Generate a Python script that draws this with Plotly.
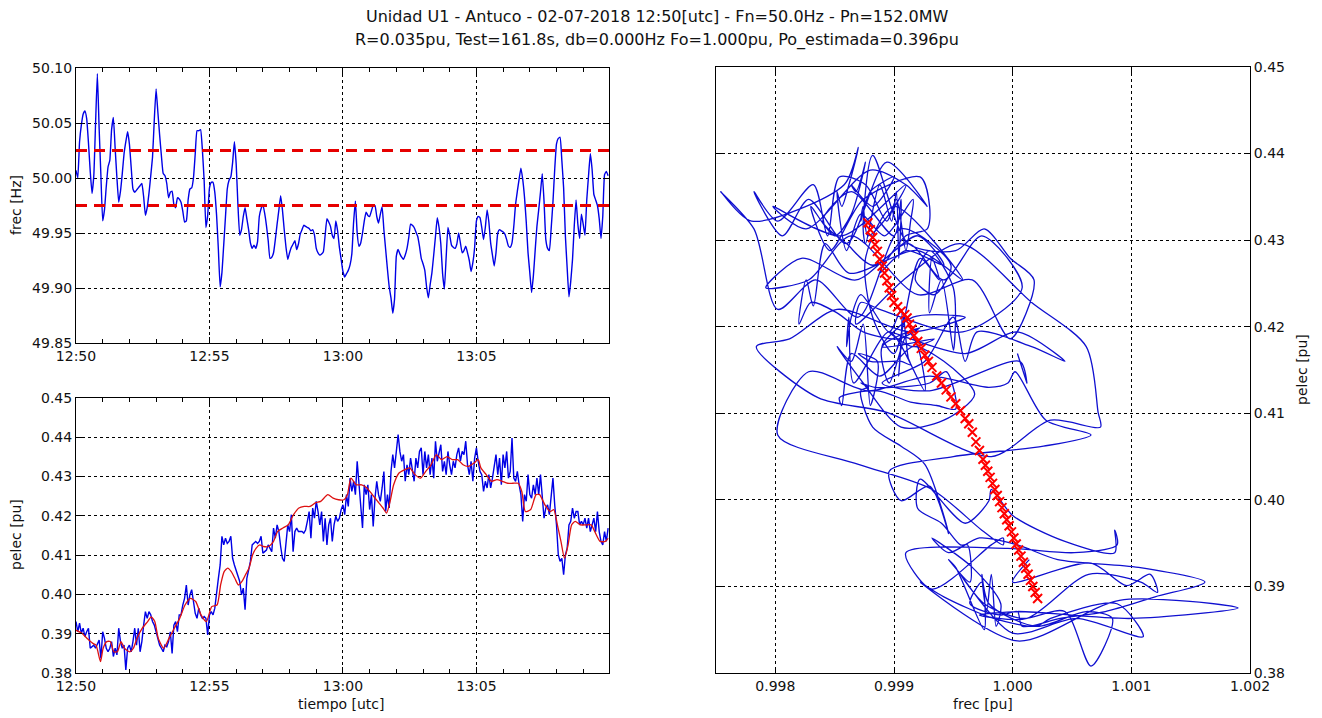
import pandas as pd
import plotly.graph_objects as go

# ---------------- data ----------------
T0 = "2018-07-02 12:50:00"
T_END = "2018-07-02 13:09:58"
FN_HZ = 50.0
DB_UPPER_HZ = 50.025
DB_LOWER_HZ = 49.975

# 4-second samples, seconds after 12:50:00 utc
t_sec = list(range(0, 1200, 4))

frec_hz = [
    50.007, 50.000, 50.033, 50.048, 50.058, 50.061, 50.054, 50.032, 50.006, 49.986,
    50.002, 50.050, 50.095, 50.045, 50.002, 49.961, 49.971, 49.992, 50.010, 50.016,
    50.044, 50.055, 50.027, 50.000, 49.978, 49.988, 50.004, 50.022, 50.033, 50.042,
    50.031, 50.010, 49.990, 49.987, 49.989, 49.991, 49.993, 49.995, 49.983, 49.966,
    49.973, 49.986, 50.002, 50.019, 50.053, 50.081, 50.060, 50.039, 50.020, 50.004,
    50.002, 49.995, 49.982, 49.987, 49.988, 49.976, 49.973, 49.982, 49.981, 49.978,
    49.970, 49.960, 49.961, 49.980, 49.990, 49.991, 50.000, 50.022, 50.043, 50.043,
    50.044, 50.026, 49.998, 49.955, 49.966, 49.991, 49.996, 49.996, 49.987, 49.966,
    49.935, 49.901, 49.914, 49.939, 49.965, 49.990, 49.998, 50.001, 50.014, 50.033,
    50.013, 49.975, 49.948, 49.953, 49.965, 49.973, 49.963, 49.953, 49.941, 49.936,
    49.939, 49.936, 49.942, 49.965, 49.972, 49.976, 49.968, 49.957, 49.943, 49.927,
    49.928, 49.932, 49.944, 49.958, 49.971, 49.984, 49.971, 49.953, 49.937, 49.926,
    49.932, 49.937, 49.940, 49.943, 49.935, 49.940, 49.949, 49.953, 49.957, 49.956,
    49.955, 49.954, 49.952, 49.953, 49.948, 49.936, 49.932, 49.930, 49.931, 49.933,
    49.948, 49.963, 49.960, 49.956, 49.948, 49.945, 49.961, 49.952, 49.937, 49.926,
    49.915, 49.910, 49.913, 49.916, 49.921, 49.931, 49.960, 49.979, 49.950, 49.938,
    49.941, 49.950, 49.961, 49.969, 49.966, 49.965, 49.970, 49.975, 49.975, 49.965,
    49.959, 49.967, 49.974, 49.953, 49.935, 49.917, 49.901, 49.891, 49.877, 49.890,
    49.929, 49.935, 49.931, 49.928, 49.926, 49.930, 49.936, 49.946, 49.958, 49.957,
    49.955, 49.951, 49.947, 49.938, 49.927, 49.922, 49.916, 49.901, 49.891, 49.903,
    49.914, 49.930, 49.947, 49.964, 49.955, 49.940, 49.913, 49.899, 49.928, 49.955,
    49.948, 49.939, 49.937, 49.936, 49.940, 49.950, 49.941, 49.932, 49.934, 49.938,
    49.932, 49.925, 49.915, 49.923, 49.937, 49.961, 49.965, 49.964, 49.955, 49.944,
    49.955, 49.971, 49.960, 49.941, 49.930, 49.920, 49.932, 49.950, 49.953, 49.952,
    49.951, 49.949, 49.944, 49.938, 49.937, 49.941, 49.956, 49.976, 49.988, 49.999,
    50.009, 49.999, 49.983, 49.960, 49.932, 49.914, 49.896, 49.911, 49.934, 49.956,
    49.971, 49.987, 50.004, 49.979, 49.944, 49.936, 49.934, 49.954, 49.978, 50.008,
    50.031, 50.036, 50.037, 50.016, 49.991, 49.947, 49.918, 49.892, 49.906, 49.926,
    49.957, 49.980, 49.958, 49.945, 49.967, 49.958, 49.948, 49.980, 50.002, 50.022,
    50.008, 49.985, 49.980, 49.975, 49.963, 49.945, 49.965, 50.003, 50.006, 50.002,
]

pelec_pu = [
    0.3931, 0.3905, 0.3927, 0.3901, 0.3914, 0.3893, 0.3905, 0.3914, 0.3863, 0.3867,
    0.3871, 0.3863, 0.3875, 0.3884, 0.3837, 0.3905, 0.3888, 0.3863, 0.3854, 0.3863,
    0.3880, 0.3842, 0.3863, 0.3846, 0.3914, 0.3880, 0.3863, 0.3871, 0.3808, 0.3863,
    0.3871, 0.3854, 0.3880, 0.3914, 0.3871, 0.3914, 0.3854, 0.3880, 0.3922, 0.3956,
    0.3939, 0.3956, 0.3948, 0.3931, 0.3922, 0.3905, 0.3888, 0.3871, 0.3863, 0.3854,
    0.3871, 0.3867, 0.3880, 0.3905, 0.3850, 0.3922, 0.3931, 0.3905, 0.3948, 0.3948,
    0.3973, 0.3990, 0.4024, 0.3973, 0.3999, 0.4012, 0.3982, 0.3952, 0.3939, 0.3965,
    0.3948, 0.3939, 0.3944, 0.3939, 0.3897, 0.3948, 0.3956, 0.3948, 0.3965, 0.4012,
    0.4041, 0.4075, 0.4148, 0.4126, 0.4143, 0.4130, 0.4135, 0.4148, 0.4092, 0.4075,
    0.4062, 0.4050, 0.4033, 0.3999, 0.4016, 0.3961, 0.4041, 0.4062, 0.4084, 0.4126,
    0.4130, 0.4135, 0.4130, 0.4135, 0.4148, 0.4105, 0.4109, 0.4113, 0.4126, 0.4118,
    0.4109, 0.4169, 0.4143, 0.4177, 0.4160, 0.4122, 0.4092, 0.4084, 0.4135, 0.4177,
    0.4160, 0.4203, 0.4109, 0.4160, 0.4169, 0.4160, 0.4160, 0.4160, 0.4156, 0.4164,
    0.4186, 0.4211, 0.4143, 0.4220, 0.4194, 0.4237, 0.4211, 0.4177, 0.4211, 0.4135,
    0.4194, 0.4126, 0.4177, 0.4194, 0.4135, 0.4177, 0.4199, 0.4186, 0.4194, 0.4216,
    0.4228, 0.4203, 0.4254, 0.4224, 0.4296, 0.4262, 0.4288, 0.4254, 0.4339, 0.4279,
    0.4211, 0.4169, 0.4279, 0.4254, 0.4279, 0.4216, 0.4254, 0.4173, 0.4245, 0.4288,
    0.4254, 0.4237, 0.4271, 0.4313, 0.4211, 0.4254, 0.4220, 0.4313, 0.4356, 0.4322,
    0.4364, 0.4407, 0.4364, 0.4339, 0.4356, 0.4288, 0.4330, 0.4305, 0.4347, 0.4322,
    0.4288, 0.4347, 0.4322, 0.4364, 0.4373, 0.4305, 0.4364, 0.4322, 0.4356, 0.4305,
    0.4347, 0.4296, 0.4390, 0.4339, 0.4364, 0.4381, 0.4313, 0.4339, 0.4305, 0.4364,
    0.4330, 0.4305, 0.4339, 0.4322, 0.4356, 0.4373, 0.4339, 0.4364, 0.4356, 0.4390,
    0.4330, 0.4305, 0.4339, 0.4288, 0.4347, 0.4373, 0.4339, 0.4313, 0.4305, 0.4262,
    0.4288, 0.4271, 0.4305, 0.4271, 0.4296, 0.4322, 0.4356, 0.4305, 0.4347, 0.4279,
    0.4356, 0.4322, 0.4364, 0.4296, 0.4313, 0.4398, 0.4296, 0.4288, 0.4313, 0.4279,
    0.4254, 0.4186, 0.4254, 0.4237, 0.4305, 0.4254, 0.4245, 0.4279, 0.4254, 0.4296,
    0.4254, 0.4305, 0.4245, 0.4194, 0.4220, 0.4228, 0.4203, 0.4254, 0.4296, 0.4228,
    0.4177, 0.4101, 0.4084, 0.4092, 0.4050, 0.4101, 0.4118, 0.4177, 0.4186, 0.4220,
    0.4194, 0.4211, 0.4211, 0.4177, 0.4186, 0.4177, 0.4194, 0.4169, 0.4194, 0.4160,
    0.4177, 0.4194, 0.4160, 0.4211, 0.4160, 0.4135, 0.4126, 0.4160, 0.4135, 0.4169,
]

# filtered electrical power (red curve), seconds after 12:50:00 utc
filt_t_sec = [
    0, 13, 25, 37, 45, 55, 61, 69, 77, 85, 93, 101, 109, 121, 129, 137, 149, 161, 169, 177,
    185, 197, 209, 221, 233, 245, 257, 269, 281, 293, 305, 317, 325, 333, 341, 349, 357, 365,
    373, 381, 389, 397, 405, 413, 421, 433, 444, 453, 465, 477, 489, 501, 513, 526, 538, 550,
    566, 578, 590, 602, 610, 618, 630, 642, 654, 666, 678, 690, 698, 706, 714, 726, 738, 750,
    762, 774, 786, 798, 810, 822, 834, 846, 858, 870, 882, 894, 904, 910, 922, 934, 946, 958,
    970, 982, 994, 1002, 1010, 1022, 1034, 1042, 1054, 1066, 1074, 1082, 1090, 1098, 1106,
    1114, 1122, 1134, 1146, 1158, 1166, 1178, 1190, 1196,
]
pelec_filt = [
    0.3909, 0.3901, 0.3888, 0.3876, 0.3871, 0.3829, 0.3863, 0.3880, 0.3880, 0.3854,
    0.3854, 0.3880, 0.3863, 0.3854, 0.3863, 0.3888, 0.3914, 0.3931, 0.3943, 0.3931,
    0.3888, 0.3863, 0.3888, 0.3914, 0.3939, 0.3973, 0.3990, 0.3982, 0.3948, 0.3931,
    0.3969, 0.3973, 0.4024, 0.4058, 0.4067, 0.4058, 0.4041, 0.4024, 0.4033, 0.4050,
    0.4067, 0.4101, 0.4118, 0.4126, 0.4122, 0.4122, 0.4135, 0.4160, 0.4169, 0.4177,
    0.4203, 0.4220, 0.4224, 0.4224, 0.4233, 0.4237, 0.4254, 0.4245, 0.4241, 0.4241,
    0.4254, 0.4296, 0.4279, 0.4279, 0.4271, 0.4254, 0.4237, 0.4220, 0.4207, 0.4237,
    0.4279, 0.4309, 0.4317, 0.4322, 0.4305, 0.4296, 0.4313, 0.4330, 0.4356, 0.4343,
    0.4351, 0.4343, 0.4343, 0.4330, 0.4326, 0.4334, 0.4343, 0.4322, 0.4305, 0.4288,
    0.4292, 0.4288, 0.4283, 0.4283, 0.4283, 0.4262, 0.4211, 0.4216, 0.4254, 0.4254,
    0.4228, 0.4211, 0.4216, 0.4177, 0.4135, 0.4092, 0.4126, 0.4177, 0.4186, 0.4177,
    0.4177, 0.4177, 0.4160, 0.4135, 0.4135, 0.4143,
]

# estimated droop characteristic (red x markers, right panel)
droop_frec_pu = [
    0.99878, 0.99880, 0.99882, 0.99884, 0.99886, 0.99888, 0.99890, 0.99892, 0.99894, 0.99896,
    0.99898, 0.99900, 0.99903, 0.99906, 0.99909, 0.99911, 0.99913, 0.99915, 0.99917, 0.99920,
    0.99923, 0.99926, 0.99929, 0.99932, 0.99936, 0.99940, 0.99944, 0.99948, 0.99952, 0.99956,
    0.99960, 0.99963, 0.99966, 0.99969, 0.99972, 0.99975, 0.99977, 0.99979, 0.99981, 0.99983,
    0.99985, 0.99987, 0.99989, 0.99991, 0.99993, 0.99995, 0.99997, 0.99999, 1.00001, 1.00003,
    1.00005, 1.00007, 1.00009, 1.00011, 1.00013, 1.00015, 1.00017, 1.00019, 1.00021,
]
droop_pelec_pu = [
    0.4320, 0.4312, 0.4303, 0.4295, 0.4287, 0.4278, 0.4270, 0.4262, 0.4253, 0.4245,
    0.4236, 0.4228, 0.4223, 0.4218, 0.4214, 0.4210, 0.4203, 0.4197, 0.4190, 0.4183,
    0.4175, 0.4167, 0.4160, 0.4153, 0.4143, 0.4135, 0.4127, 0.4119, 0.4111, 0.4103,
    0.4094, 0.4088, 0.4078, 0.4067, 0.4057, 0.4047, 0.4040, 0.4033, 0.4026, 0.4019,
    0.4012, 0.4005, 0.3998, 0.3991, 0.3984, 0.3977, 0.3970, 0.3963, 0.3956, 0.3949,
    0.3942, 0.3935, 0.3928, 0.3921, 0.3914, 0.3907, 0.3900, 0.3893, 0.3886,
]

freq_ticks = [49.85, 49.90, 49.95, 50.00, 50.05, 50.10]
pelec_ticks = [0.38, 0.39, 0.40, 0.41, 0.42, 0.43, 0.44, 0.45]
frec_pu_ticks = [0.998, 0.999, 1.000, 1.001, 1.002]

TITLE_1 = "Unidad U1 - Antuco - 02-07-2018 12:50[utc] - Fn=50.0Hz - Pn=152.0MW"
TITLE_2 = "R=0.035pu, Test=161.8s, db=0.000Hz Fo=1.000pu, Po_estimada=0.396pu"

# ---------------- derived ----------------
t0 = pd.Timestamp(T0)
times = t0 + pd.to_timedelta(t_sec, unit="s")
filt_times = t0 + pd.to_timedelta(filt_t_sec, unit="s")
frec_pu = [f / FN_HZ for f in frec_hz]

W, H = 1322, 718
FONT = "DejaVu Sans"
TXT = "#111111"
BLUE = "#0000e6"
RED = "#e60000"

fig = go.Figure()

# top-left: frequency
fig.add_trace(go.Scatter(x=times, y=frec_hz, mode="lines",
                         line=dict(color=BLUE, width=1.4, shape="spline", smoothing=0.4),
                         xaxis="x", yaxis="y", showlegend=False))
for lvl in (DB_UPPER_HZ, DB_LOWER_HZ):
    fig.add_trace(go.Scatter(x=[T0, T_END], y=[lvl, lvl], mode="lines",
                             line=dict(color=RED, width=3, dash="11px,7px"),
                             xaxis="x", yaxis="y", showlegend=False))

# bottom-left: electrical power
fig.add_trace(go.Scatter(x=times, y=pelec_pu, mode="lines",
                         line=dict(color=BLUE, width=1.4),
                         xaxis="x2", yaxis="y2", showlegend=False))
fig.add_trace(go.Scatter(x=filt_times, y=pelec_filt, mode="lines",
                         line=dict(color="#dd1111", width=1.3, shape="spline", smoothing=0.6),
                         xaxis="x2", yaxis="y2", showlegend=False))

# right: pelec vs frec
fig.add_trace(go.Scatter(x=frec_pu, y=pelec_pu, mode="lines",
                         line=dict(color="#1010d0", width=1.3, shape="spline", smoothing=0.8),
                         xaxis="x3", yaxis="y3", showlegend=False))
fig.add_trace(go.Scatter(x=droop_frec_pu, y=droop_pelec_pu, mode="markers",
                         marker=dict(symbol="x-thin", size=9, color="#ff0000",
                                     line=dict(color="#ff0000", width=2)),
                         xaxis="x3", yaxis="y3", showlegend=False))


def base_axis(**kw):
    d = dict(showline=True, linecolor="black", linewidth=1, mirror="allticks",
             ticks="inside", ticklen=6, tickcolor="black", tickwidth=1,
             showgrid=True, gridcolor="#000000", griddash="dot", gridwidth=0.7,
             zeroline=False, automargin=False,
             tickfont=dict(family=FONT, size=14, color=TXT))
    d.update(kw)
    return d


def px_x(p):
    return p / W


def px_y(p):
    return 1 - p / H


time_axis = dict(type="date", range=[T0, T_END], tickformat="%H:%M",
                 tick0=T0, dtick=300000,
                 minor=dict(dtick=60000, ticks="inside", ticklen=4,
                            tickcolor="black", showgrid=False))

fig.update_layout(
    width=W, height=H,
    margin=dict(l=0, r=0, t=0, b=0, autoexpand=False),
    paper_bgcolor="white", plot_bgcolor="white",
    font=dict(family=FONT, color=TXT, size=14),
    xaxis=base_axis(domain=[px_x(76), px_x(609)], anchor="y", **time_axis),
    yaxis=base_axis(domain=[px_y(343), px_y(68)], anchor="x",
                    range=[49.85, 50.10], tickvals=freq_ticks, tickformat=".2f"),
    xaxis2=base_axis(domain=[px_x(76), px_x(609)], anchor="y2", **time_axis),
    yaxis2=base_axis(domain=[px_y(673), px_y(398)], anchor="x2",
                     range=[0.38, 0.45], tickvals=pelec_ticks, tickformat=".2f"),
    xaxis3=base_axis(domain=[px_x(716), px_x(1250)], anchor="y3",
                     range=[0.9975, 1.002], tickvals=frec_pu_ticks, tickformat=".3f"),
    yaxis3=base_axis(domain=[px_y(673), px_y(67)], anchor="x3", side="right",
                     range=[0.38, 0.45], tickvals=pelec_ticks, tickformat=".2f"),
)

annots = [
    dict(text=TITLE_1, x=px_x(657), y=px_y(17), font=dict(size=16)),
    dict(text=TITLE_2, x=px_x(657), y=px_y(40), font=dict(size=16)),
    dict(text="frec [Hz]", x=px_x(16), y=px_y(205), textangle=-90, font=dict(size=14)),
    dict(text="pelec [pu]", x=px_x(16), y=px_y(535), textangle=-90, font=dict(size=14)),
    dict(text="tiempo [utc]", x=px_x(342), y=px_y(704), font=dict(size=14)),
    dict(text="frec [pu]", x=px_x(983), y=px_y(704), font=dict(size=14)),
    dict(text="pelec [pu]", x=px_x(1302), y=px_y(370), textangle=-90, font=dict(size=14)),
]
for a in annots:
    a.update(xref="paper", yref="paper", showarrow=False, xanchor="center", yanchor="middle")
    a["font"].update(family=FONT, color=TXT)
fig.update_layout(annotations=annots)

fig.write_html(
    "out.html",
    config={"displayModeBar": False},
    post_script="document.body.style.margin='0px';document.body.style.overflow='hidden';",
)
